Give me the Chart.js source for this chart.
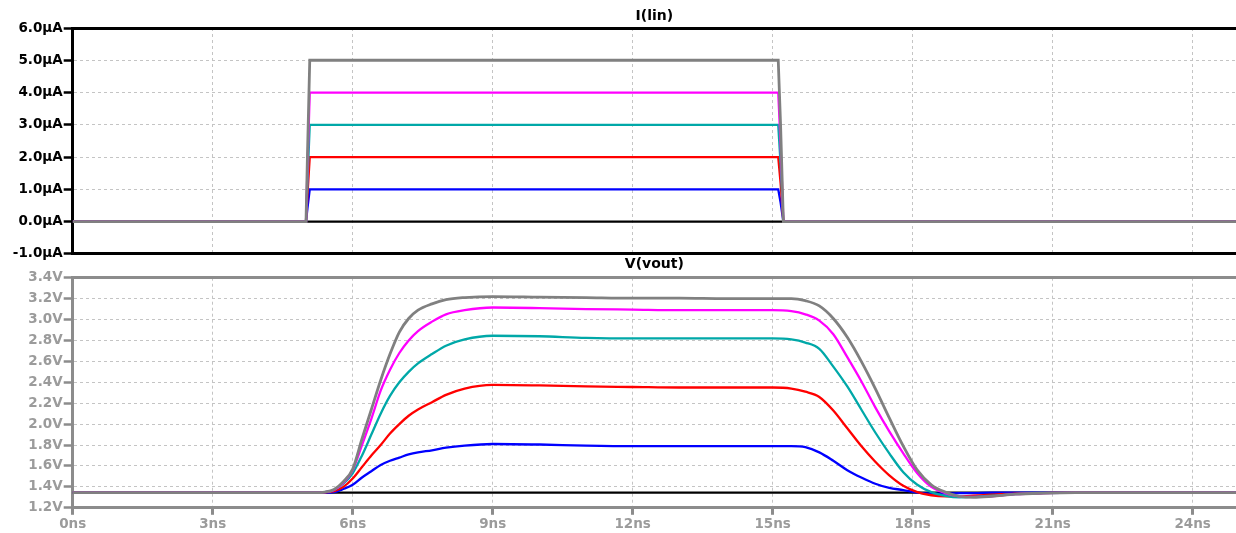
<!DOCTYPE html>
<html>
<head>
<meta charset="utf-8">
<script src="https://cdn.jsdelivr.net/npm/chart.js@4/dist/chart.umd.min.js"></script>
<style>
  html, body { margin: 0; padding: 0; background: #fff; overflow: hidden; }
  #topChart { position: absolute; left: 0; top: 0; }
  #botChart { position: absolute; left: 0; top: 254px; }
</style>
</head>
<body>
<canvas id="topChart" width="1236" height="263"></canvas>
<canvas id="botChart" width="1236" height="281"></canvas>
<script>
// time axis (ns)
var tMin = 0, tMax = 24.93;

// I(lin) traces, µA
var tI      = [0, 5.0, 5.03, 5.08, 15.12, 15.17, 15.23, 24.93];
var iGray    = [0, 0, 2.0, 5, 5, 3.0, 0, 0];
var iMagenta = [0, 0, 1.6, 4, 4, 2.4, 0, 0];
var iCyan    = [0, 0, 1.2, 3, 3, 1.8, 0, 0];
var iRed     = [0, 0, 0.8, 2, 2, 1.2, 0, 0];
var iBlue    = [0, 0, 0.4, 1, 1, 0.6, 0, 0];
var iBlack   = [0, 0, 0, 0, 0, 0, 0, 0];

// V(vout) traces, V
var tV = [0, 5.2, 5.4, 5.6, 5.8, 6.0, 6.2, 6.4, 6.6, 6.8, 7.0, 7.2, 7.4, 7.7, 8.0, 8.4, 9.0, 10, 11, 12, 13, 14, 15,
          15.4, 15.7, 16.0, 16.3, 16.6, 16.9, 17.2, 17.5, 17.8, 18.1, 18.4, 18.7, 19.0, 19.3, 19.7, 20.2, 20.8, 21.5, 24.93];
var vGray    = [1.345, 1.345, 1.35, 1.375, 1.45, 1.57, 1.86, 2.14, 2.42, 2.67, 2.88, 3.01, 3.09, 3.15, 3.19, 3.21, 3.22, 3.215, 3.21, 3.205, 3.205, 3.20, 3.20,
                3.20, 3.18, 3.13, 3.01, 2.83, 2.60, 2.34, 2.06, 1.79, 1.56, 1.42, 1.35, 1.31, 1.30, 1.31, 1.33, 1.34, 1.345, 1.345];
var vMagenta = [1.345, 1.345, 1.35, 1.37, 1.44, 1.56, 1.80, 2.05, 2.32, 2.52, 2.68, 2.80, 2.89, 2.98, 3.05, 3.09, 3.115, 3.11, 3.10, 3.095, 3.09, 3.09, 3.09,
                3.08, 3.05, 2.99, 2.86, 2.64, 2.41, 2.16, 1.93, 1.72, 1.53, 1.40, 1.34, 1.31, 1.305, 1.31, 1.33, 1.34, 1.345, 1.345];
var vCyan    = [1.345, 1.345, 1.35, 1.37, 1.43, 1.53, 1.70, 1.90, 2.10, 2.27, 2.40, 2.50, 2.58, 2.67, 2.75, 2.81, 2.845, 2.84, 2.825, 2.82, 2.82, 2.82, 2.82,
                2.81, 2.78, 2.72, 2.55, 2.36, 2.14, 1.92, 1.72, 1.54, 1.42, 1.35, 1.315, 1.30, 1.305, 1.315, 1.33, 1.34, 1.345, 1.345];
var vRed     = [1.345, 1.345, 1.347, 1.36, 1.40, 1.48, 1.59, 1.70, 1.80, 1.91, 2.00, 2.08, 2.14, 2.21, 2.28, 2.34, 2.375, 2.37, 2.36, 2.355, 2.35, 2.35, 2.35,
                2.34, 2.31, 2.26, 2.13, 1.96, 1.79, 1.64, 1.51, 1.41, 1.35, 1.32, 1.31, 1.31, 1.315, 1.325, 1.335, 1.34, 1.345, 1.345];
var vBlue    = [1.345, 1.345, 1.345, 1.35, 1.38, 1.42, 1.49, 1.55, 1.61, 1.65, 1.68, 1.71, 1.73, 1.75, 1.775, 1.795, 1.81, 1.805, 1.795, 1.79, 1.79, 1.79, 1.79,
                1.79, 1.78, 1.73, 1.65, 1.56, 1.49, 1.43, 1.39, 1.37, 1.345, 1.335, 1.335, 1.34, 1.34, 1.345, 1.345, 1.345, 1.345, 1.345];
var vBlack   = tV.map(function () { return 1.345; });

var colours = ['#808080', '#ff00ff', '#00a8a8', '#ff0000', '#0000ff', '#000000'];

function pts(t, v) {
    return t.map(function (x, i) { return { x: x, y: v[i] }; });
}

// first dataset (grey) ends up drawn on top, like the original plot
function traces(t, series, smooth) {
    return series.map(function (s, i) {
        return {
            data: pts(t, s),
            borderColor: colours[i],
            borderWidth: i === 0 ? 2.8 : 2.3,
            pointRadius: 0,
            fill: false,
            tension: 0,
            cubicInterpolationMode: smooth ? 'monotone' : 'default'
        };
    });
}

var font = 'DejaVu Sans';
var gridGrey = '#c4c4c4';

function yAxis(min, max, step, unit, col, borderCol) {
    return {
        type: 'linear',
        min: min, max: max,
        afterFit: function (s) { s.width = 72.7; },
        ticks: {
            stepSize: step,
            includeBounds: false,
            color: col,
            padding: 1,
            font: { family: font, size: 13.5, weight: 'bold' },
            callback: function (v) { return v.toFixed(1) + unit; }
        },
        grid: { color: gridGrey, lineWidth: 1, tickLength: 9, tickColor: borderCol, tickWidth: 2.5, tickBorderDash: [] },
        border: { color: borderCol, width: 3, dash: [3, 3] }
    };
}

function xAxis(showLabels, borderCol) {
    return {
        type: 'linear',
        min: tMin, max: tMax,
        ticks: {
            display: showLabels,
            stepSize: 3,
            includeBounds: false,
            maxRotation: 0,
            color: '#9b9b9b',
            padding: 2,
            font: { family: font, size: 13.5, weight: 'bold' },
            callback: function (v) { return v + 'ns'; }
        },
        grid: { color: gridGrey, lineWidth: 1, drawTicks: showLabels, tickLength: 7, tickColor: borderCol, tickWidth: 3, tickBorderDash: [] },
        border: { color: borderCol, width: 3, dash: [3, 3] }
    };
}

function frameTop(borderCol) {
    return {
        type: 'linear', position: 'top',
        min: tMin, max: tMax,
        ticks: { display: false },
        grid: { display: false, drawTicks: false },
        border: { color: borderCol, width: 3 }
    };
}

var commonPlugins = function (title, pad) {
    return {
        legend: { display: false },
        tooltip: { enabled: false },
        title: {
            display: true,
            text: title,
            fullSize: false,
            color: '#000',
            font: { family: font, size: 14, weight: 'bold', lineHeight: 1.2 },
            padding: pad
        }
    };
};

new Chart(document.getElementById('topChart'), {
    type: 'line',
    data: { datasets: traces(tI, [iGray, iMagenta, iCyan, iRed, iBlue, iBlack], false) },
    options: {
        responsive: false,
        animation: false,
        events: [],
        layout: { padding: { left: 0, right: 0, top: 0, bottom: 4 } },
        plugins: commonPlugins('I(lin)', { top: 7.6, bottom: 3.6 }),
        scales: {
            x: xAxis(false, '#000'),
            xTop: frameTop('#000'),
            y: yAxis(-1, 6, 1, 'µA', '#000', '#000')
        }
    }
});

new Chart(document.getElementById('botChart'), {
    type: 'line',
    data: { datasets: traces(tV, [vGray, vMagenta, vCyan, vRed, vBlue, vBlack], true) },
    options: {
        responsive: false,
        animation: false,
        events: [],
        layout: { padding: { left: 0, right: 0, top: 0, bottom: 0 } },
        plugins: commonPlugins('V(vout)', { top: 1.6, bottom: 5.3 }),
        scales: {
            x: xAxis(true, '#8c8c8c'),
            xTop: frameTop('#8c8c8c'),
            y: yAxis(1.2, 3.4, 0.2, 'V', '#9b9b9b', '#8c8c8c')
        }
    }
});
</script>
</body>
</html>
